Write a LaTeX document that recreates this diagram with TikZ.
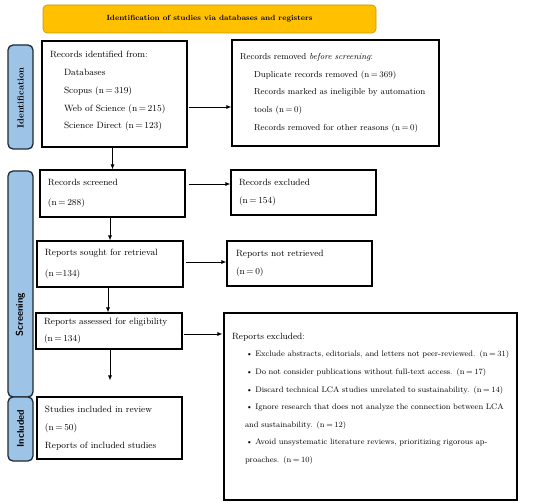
\documentclass[tikz,border=0pt]{standalone}
\usetikzlibrary{arrows.meta}
\definecolor{titleorange}{HTML}{FFC000}
\definecolor{titleborder}{HTML}{C89400}
\definecolor{sideblue}{HTML}{9DC3E6}
\definecolor{sideborder}{HTML}{1F2A36}
\newcommand{\nn}[1]{(n\hspace{1.6pt}=\hspace{1.6pt}#1)}
\begin{document}
\begin{tikzpicture}[x=1pt,y=-1pt,
  body/.style={font=\fontsize{9.1}{17.7}\selectfont},
  pbox/.style={draw=black, line width=1.1pt, inner ysep=0pt, inner xsep=8pt, align=left, body},
  side/.style={draw=sideborder, fill=sideblue, line width=1.3pt, rounded corners=5pt,
     minimum width=25pt, inner sep=0pt},
  sidetext/.style={rotate=90, font=\fontsize{8.9}{10}\selectfont\bfseries},
  sidesans/.style={rotate=90, font=\fontsize{9.8}{10}\selectfont\sffamily\bfseries},
  arr/.style={-{Latex[length=5pt,width=4pt]}, line width=0.8pt}
]
\useasboundingbox (0,0) rectangle (550,503);

% title
\node[draw=titleborder, fill=titleorange, line width=0.6pt, rounded corners=4pt,
      minimum width=333pt, minimum height=28pt, inner sep=0pt,
      font=\fontsize{7.5}{10}\selectfont\bfseries] (title) at (209.5,19)
  {Identification of studies via databases and registers};

% side labels
\node[side, minimum height=104pt] (sid) at (20.5,97) {};
\node[sidetext] at (20.5,98) {Identification};
\node[side, minimum height=226pt] (ssc) at (20.5,284) {};
\node[sidesans] at (20.5,314.5) {Screening};
\node[side, minimum height=64pt] (sin) at (20.5,429) {};
\node[sidesans] at (20.5,428.5) {Included};

% boxes
\node[pbox, text width=129pt, minimum height=106pt] (ident) at (114.5,94)
 {Records identified from:\\
  \hspace*{14pt}Databases\\
  \hspace*{14pt}Scopus \nn{319}\\
  \hspace*{14pt}Web of Science \nn{215}\\
  \hspace*{14pt}Science Direct \nn{123}\\[-10pt]\mbox{}};

\node[pbox, text width=191pt, minimum height=106pt, font=\fontsize{8.7}{17.7}\selectfont] (removed) at (335.5,93)
 {Records removed \textit{before screening}:\\
  \hspace*{14pt}Duplicate records removed \nn{369}\\
  \hspace*{14pt}\makebox[177pt][s]{Records marked as ineligible by automation}\\
  \hspace*{14pt}tools \nn{0}\\
  \hspace*{14pt}Records removed for other reasons \nn{0}};

\node[pbox, text width=129pt, minimum height=47pt, font=\fontsize{9.1}{20}\selectfont] (screened) at (112.5,193.5)
 {Records screened\\\nn{288}};

\node[pbox, text width=129pt, minimum height=45pt] (excluded) at (303.5,192.5)
 {Records excluded\\\nn{154}};

\node[pbox, text width=130pt, minimum height=46pt, font=\fontsize{9.1}{21}\selectfont] (sought) at (110,264)
 {Reports sought for retrieval\\(n\hspace{1.6pt}=134)};

\node[pbox, text width=127pt, inner xsep=9pt, minimum height=45pt] (notret) at (299.5,263.5)
 {Reports not retrieved\\\nn{0}};

\node[pbox, text width=130pt, minimum height=36pt, font=\fontsize{9.1}{17}\selectfont] (assessed) at (109,331)
 {Reports assessed for eligibility\\\nn{134}};

\node[pbox, text width=277pt, minimum height=187pt, font=\fontsize{8.0}{17.6}\selectfont] (rexcl) at (370.5,406.5)
 {{\fontsize{9.1}{17.6}\selectfont Reports excluded:}\\
  \hspace*{14pt}\mbox{\textbullet\ Exclude abstracts, editorials, and letters not peer-reviewed. \nn{31}}\\
  \hspace*{14pt}\mbox{\textbullet\ Do not consider publications without full-text access. \nn{17}}\\
  \hspace*{14pt}\mbox{\textbullet\ Discard technical LCA studies unrelated to sustainability. \nn{14}}\\
  \hspace*{14pt}\mbox{\textbullet\ Ignore research that does not analyze the connection between LCA}\\
  \hspace*{13pt}\mbox{and sustainability. \nn{12}}\\
  \hspace*{14pt}\mbox{\textbullet\ Avoid unsystematic literature reviews, prioritizing rigorous ap-}\\
  \hspace*{13pt}\mbox{proaches. \nn{10}}\\\mbox{}};

\node[pbox, text width=129pt, minimum height=62pt] (incl) at (109.5,428)
 {Studies included in review\\\nn{50}\\Reports of included studies};

% arrows
\draw[arr] ([xshift=1pt]ident.east |- 0,107) -- (removed.west |- 0,107);
\draw[arr] (screened.north |- ident.south) -- (screened.north);
\draw[arr] ([xshift=3pt]screened.east |- 0,184) -- (excluded.west |- 0,184);
\draw[arr] (110,0 |- screened.south) -- (110,0 |- sought.north);
\draw[arr] ([xshift=2pt]sought.east |- 0,262) -- (notret.west |- 0,262);
\draw[arr] (108,0 |- sought.south) -- (108,0 |- assessed.north);
\draw[arr] ([xshift=1pt]assessed.east |- 0,334) -- ([xshift=-1pt]rexcl.west |- 0,334);
\draw[arr, shorten >=16pt] (110,0 |- assessed.south) -- (110,0 |- incl.north);
\end{tikzpicture}
\end{document}
